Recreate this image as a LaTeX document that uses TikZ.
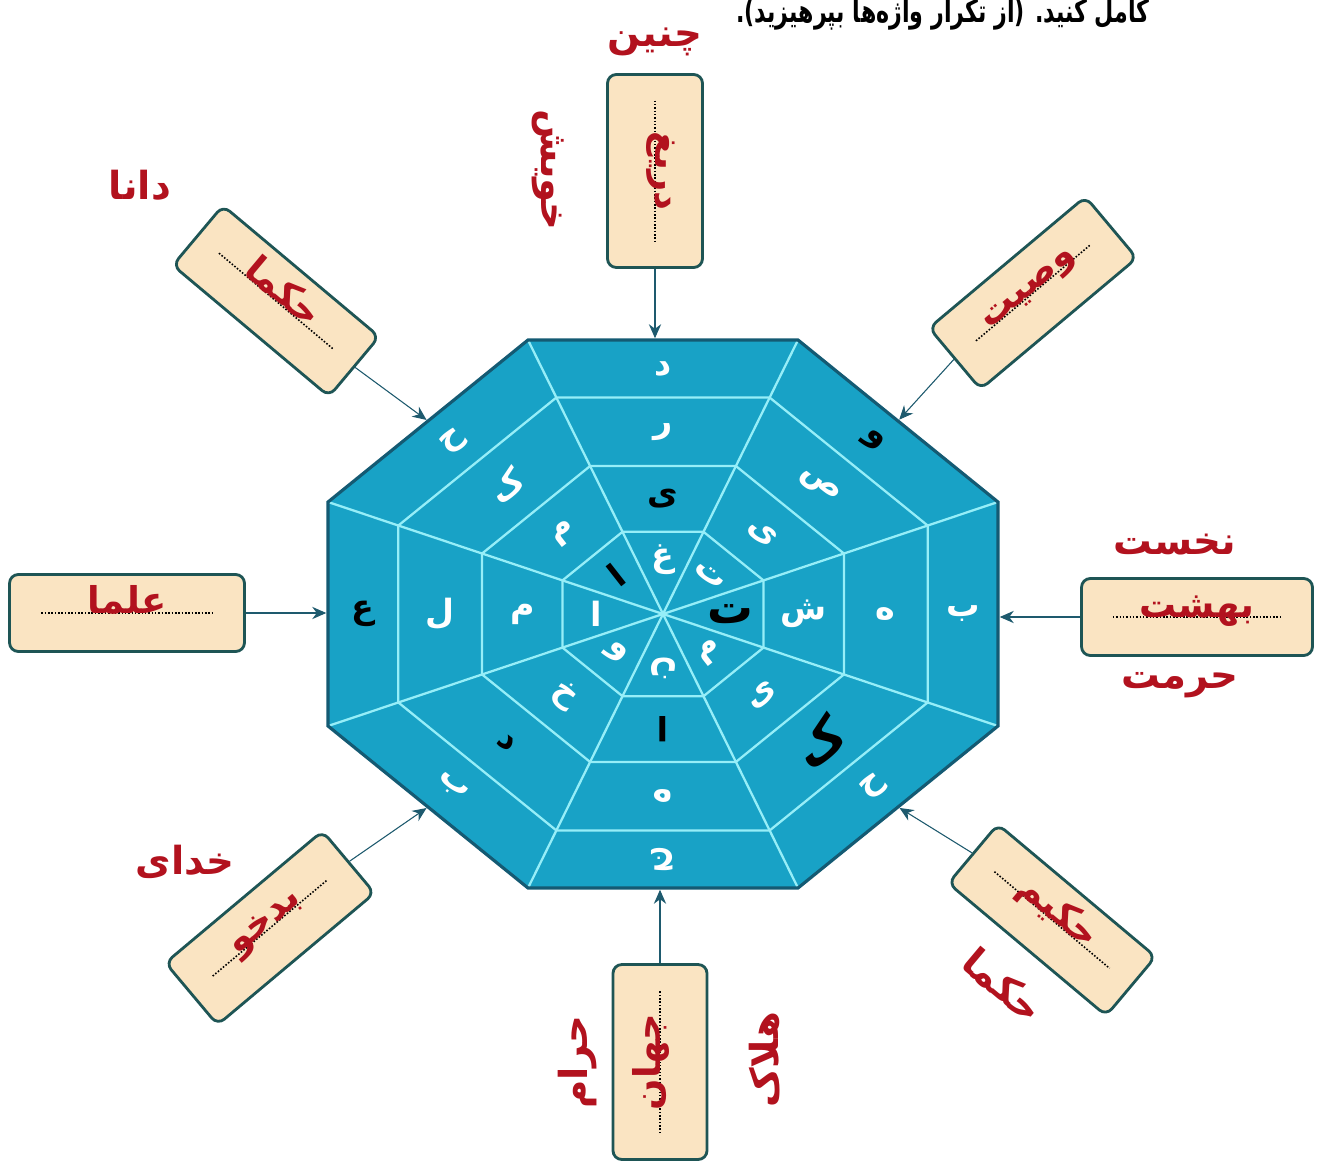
\documentclass[tikz,border=0pt]{standalone}
\usepackage{fontspec}
\usepackage{graphicx}
\usepackage{tikz}
\usetikzlibrary{calc, arrows.meta}
\usetikzlibrary{positioning}
\TeXXeTstate=1
\newfontfamily\fa[Script=Arabic]{DejaVu Sans}
\definecolor{octfill}{RGB}{24,162,198}
\definecolor{octline}{RGB}{150,238,248}
\definecolor{octedge}{RGB}{20,90,115}
\definecolor{boxfill}{RGB}{250,228,194}
\definecolor{boxedge}{RGB}{30,85,85}
\definecolor{wordred}{RGB}{178,18,30}
\definecolor{arrowc}{RGB}{30,90,110}
\newcommand{\fw}[1]{{\fa\bfseries\beginR #1\endR}}
\newcommand{\ans}[1]{\textcolor{black}{#1}}

\begin{document}
\begin{tikzpicture}[x=0.02cm,y=-0.02cm,
    wbox/.style={draw=boxedge, line width=1.6pt, fill=boxfill, rounded corners=5pt},
    word/.style={text=wordred, anchor=base, inner sep=0pt, font=\fontsize{21}{24}\selectfont},
    dotln/.style={densely dotted, line width=0.9pt},
    lbl/.style={text=wordred, inner sep=1pt, font=\fontsize{22}{24}\selectfont},
    cell/.style={text=white, inner sep=0pt, font=\fontsize{19}{21}\selectfont},
    link/.style={-{Stealth[length=8pt,width=7pt]}, semithick, draw=arrowc, fill=arrowc, shorten >=1pt}]
    \useasboundingbox (0,0) rectangle (1319,1162);
    \coordinate (C) at (663,614); %中心
    \fill[octfill] (528,340) -- (798,340) -- (998,502) -- (998,726) -- (798,888) -- (528,888) -- (328,726) -- (328,502) -- cycle;
    \foreach \s in {0.79,0.54,0.30}
        \draw[octline, line width=1.3pt, shift={(C)}, scale=\s] (-135,-274) -- (135,-274) -- (335,-112) -- (335,112) -- (135,274) -- (-135,274) -- (-335,112) -- (-335,-112) -- cycle; %内側の八角形
    \foreach \p in {(-135,-274),(135,-274),(335,-112),(335,112),(135,274),(-135,274),(-335,112),(-335,-112)}
        \draw[octline, line width=1.3pt] (C) -- ++\p;
    \draw[octedge, line width=1.8pt] (528,340) -- (798,340) -- (998,502) -- (998,726) -- (798,888) -- (528,888) -- (328,726) -- (328,502) -- cycle; %外枠
    % 文字
    \foreach \n/\dx/\dy/\r/\a/\b/\c/\d in {
        t/0/-274/0/د/ر/\ans{ی}/غ,
        tr/235/-193/-38/\ans{و}/ص/ی/ت,
        r/335/0/0/ب/ه/ش/{\ans{\fontsize{26}{28}\selectfont ت}},
        br/235/193/38/ح/{\ans{\fontsize{28}{30}\selectfont ک}}/ی/م,
        b/0/274/180/ج/ه/\ans{ا}/ن,
        bl/-235/193/-38/ب/\ans{د}/خ/و,
        l/-335/0/0/\ans{ع}/ل/م/ا,
        tl/-235/-193/38/ح/ک/م/\ans{ا}}
    {
        \node[cell, rotate=\r] (\n1) at ($(C)+0.895*(\dx,\dy)$) {\fw{\a}};
        \node[cell, rotate=\r] (\n2) at ($(C)+0.665*(\dx,\dy)$) {\fw{\b}};
        \node[cell, rotate=\r] (\n3) at ($(C)+0.42*(\dx,\dy)$) {\fw{\c}};
        \node[cell, rotate=\r] (\n4) at ($(C)+0.2*(\dx,\dy)$) {\fw{\d}};
    }
    % 枠
    \foreach \n/\x/\y/\r/\w/\h/\t in {
        tbox/655/171/-90/3.86/1.9/دریغ,
        trbox/1033/293/40/4.08/1.6/وصیت,
        rbox/1197/617/0/4.62/1.54/بهشت,
        brbox/1052/920/-40/4.12/1.54/حکیم,
        bbox/660/1062/90/3.9/1.88/جهان,
        blbox/270/928/40/4.1/1.62/بدخو,
        lbox/127/613/0/4.7/1.54/علما,
        tlbox/276/301/-40/4.08/1.56/حکما}
    {
        \node[wbox, rotate=\r, minimum width=\w cm, minimum height=\h cm] (\n) at (\x,\y) {};
        \draw[dotln] ($(\n.west)!0.14!(\n.east)$) -- ($(\n.west)!0.86!(\n.east)$);
        \node[word, rotate=\r] (\n w) at (\n.center) {\fw{\t}};
    }
    % 矢印
    \coordinate (eT) at (655,340);
    \coordinate (eTR) at (898,421);
    \coordinate (eR) at (998,617);
    \coordinate (eBR) at (898,807);
    \coordinate (eB) at (660,888);
    \coordinate (eBL) at (428,807);
    \coordinate (eL) at (328,613);
    \coordinate (eTL) at (428,421);
    \draw[link] (tbox.east) -- (eT);
    \draw[link] (trbox.west) -- (eTR);
    \draw[link] (rbox.west) -- (eR);
    \draw[link] (brbox.west) -- (eBR);
    \draw[link] (bbox.east) -- (eB);
    \draw[link] (blbox.east) -- (eBL);
    \draw[link] (lbox.east) -- (eL);
    \draw[link] (tlbox.east) -- (eTL);
    % ラベル
    \node[lbl] (up) at (655,42) {\fw{چنین}};
    \node[lbl, rotate=-90] (self) at (548,170) {\fw{خویش}};
    \node[lbl] (wise) at (140,185) {\fw{دانا}};
    \node[lbl] (first) at (1175,545) {\fw{نخست}};
    \node[lbl] (honor) at (1180,685) {\fw{حرمت}};
    \node[lbl] (god) at (185,862) {\fw{خدای}};
    \node[lbl, rotate=-40] (sages) at (1003,985) {\fw{حکما}};
    \node[lbl, rotate=90] (forbid) at (578,1062) {\fw{حرام}};
    \node[lbl, rotate=90] (ruin) at (765,1060) {\fw{هلاک}};
    \node[anchor=base east, inner sep=0pt, font=\fontsize{18}{20}\selectfont] (note) at (1150,23) {\scalebox{0.7}[1]{\fw{کامل کنید. (از تکرار واژه^^^^200cها بپرهیزید).}}};
\end{tikzpicture}
\end{document}
